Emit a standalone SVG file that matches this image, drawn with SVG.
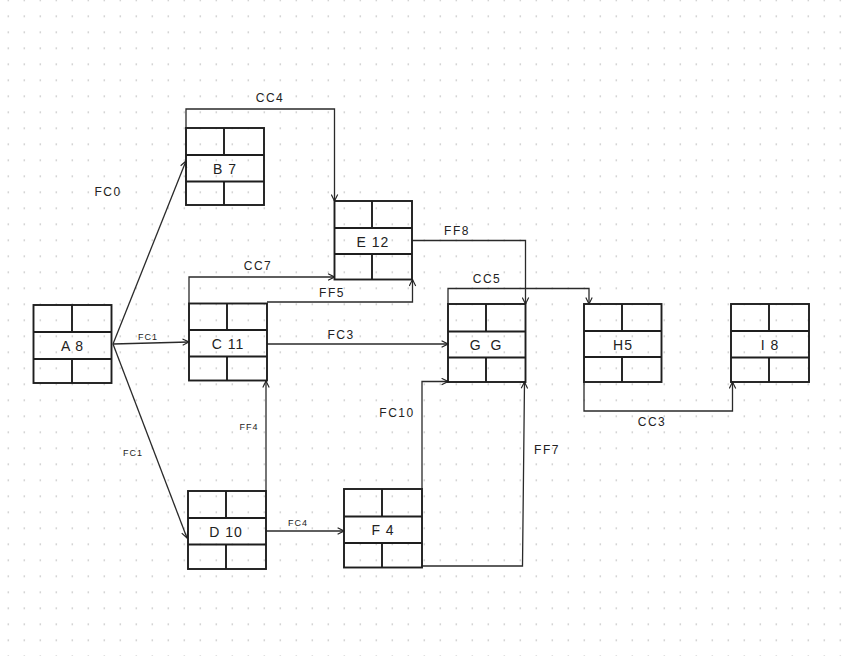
<svg xmlns="http://www.w3.org/2000/svg" width="848" height="656" viewBox="0 0 848 656">
<defs>
<pattern id="dots" x="0" y="-7.7" width="16" height="16" patternUnits="userSpaceOnUse">
<circle cx="8.3" cy="8" r="0.9" fill="#cfcfcf"/>
</pattern>
<marker id="arr" viewBox="0 0 10 10" refX="9" refY="5" markerWidth="8" markerHeight="8" markerUnits="userSpaceOnUse" orient="auto">
<path d="M1,1 L9,5 L1,9" fill="none" stroke="#222" stroke-width="1.4"/>
</marker>
<style>
.box{fill:none;stroke:#1e1e1e;stroke-width:1.9}
.conn path{fill:none;stroke:#2a2a2a;stroke-width:1.3;marker-end:url(#arr)}
.nl{font-family:"Liberation Sans",Arial,sans-serif;font-size:14px;fill:#222;text-anchor:middle;dominant-baseline:central;letter-spacing:1px}
.el{font-family:"Liberation Sans",Arial,sans-serif;font-size:12px;fill:#222;text-anchor:middle;dominant-baseline:central;letter-spacing:1.5px}
.es{font-family:"Liberation Sans",Arial,sans-serif;font-size:9px;fill:#222;text-anchor:middle;dominant-baseline:central;letter-spacing:1px}
</style>
</defs>
<rect width="848" height="656" fill="#ffffff"/>
<rect width="848" height="656" fill="url(#dots)"/>

<g id="connectors" class="conn">
<path d="M113,344 L186,161"/>
<path d="M113,344 L189,342"/>
<path d="M113,344 L187,538"/>
<path d="M186,128 V109 H334.5 V201"/>
<path d="M189,303.5 V277 H334.5"/>
<path d="M267,302 H412.5 V279.5"/>
<path d="M412,240.5 H525.5 V304"/>
<path d="M267,344 H448"/>
<path d="M448,304 V288.5 H589 V304"/>
<path d="M266,491 V381"/>
<path d="M266,531 H344"/>
<path d="M422,489 V381.5 H448"/>
<path d="M422,566 H522.5 L524.5,382"/>
<path d="M584,382 V411 H732.5 V382"/>
</g>

<g id="edge-labels">
<text class="el" x="270" y="98">CC4</text>
<text class="el" x="108" y="192">FC0</text>
<text class="el" x="258" y="266">CC7</text>
<text class="el" x="332" y="293">FF5</text>
<text class="el" x="457" y="231">FF8</text>
<text class="el" x="487" y="279">CC5</text>
<text class="es" x="148" y="337">FC1</text>
<text class="el" x="341" y="335">FC3</text>
<text class="es" x="249" y="427">FF4</text>
<text class="es" x="133" y="453">FC1</text>
<text class="el" x="397" y="413">FC10</text>
<text class="el" x="547" y="450">FF7</text>
<text class="es" x="298" y="523">FC4</text>
<text class="el" x="652" y="422">CC3</text>
</g>

<g id="node-A">
<rect class="box" x="33.5" y="305" width="78" height="78"/>
<path class="box" d="M33.5,332 H111.5 M33.5,359 H111.5 M72,305 V332 M72,359 V383"/>
<text class="nl" x="72.5" y="345.5">A 8</text>
</g>
<g id="node-B">
<rect class="box" x="186" y="128" width="78" height="77"/>
<path class="box" d="M186,155 H264 M186,181.5 H264 M224,128 V155 M224,181.5 V205"/>
<text class="nl" x="225" y="168.5">B 7</text>
</g>
<g id="node-C">
<rect class="box" x="189" y="303.5" width="78" height="77"/>
<path class="box" d="M189,330 H267 M189,356.5 H267 M227,303.5 V330 M227,356.5 V380.5"/>
<text class="nl" x="228" y="343.5">C 11</text>
</g>
<g id="node-D">
<rect class="box" x="188" y="491" width="78" height="78"/>
<path class="box" d="M188,518 H266 M188,544.5 H266 M226,491 V518 M226,544.5 V569"/>
<text class="nl" x="226" y="531.5">D 10</text>
</g>
<g id="node-E">
<rect class="box" x="334.5" y="201" width="77.5" height="78.5"/>
<path class="box" d="M334.5,228 H412 M334.5,254 H412 M372,201 V228 M372,254 V279.5"/>
<text class="nl" x="373" y="241.5">E 12</text>
</g>
<g id="node-F">
<rect class="box" x="344" y="489" width="78" height="78.5"/>
<path class="box" d="M344,516.5 H422 M344,543 H422 M382,489 V516.5 M382,543 V567.5"/>
<text class="nl" x="383" y="530">F 4</text>
</g>
<g id="node-G">
<rect class="box" x="448" y="304" width="77.5" height="78"/>
<path class="box" d="M448,331.5 H525.5 M448,357.5 H525.5 M486,304 V331.5 M486,357.5 V382"/>
<text class="nl" x="487" y="345" style="letter-spacing:3px">G G</text>
</g>
<g id="node-H">
<rect class="box" x="584" y="304" width="77.5" height="78"/>
<path class="box" d="M584,331 H661.5 M584,357 H661.5 M622,304 V331 M622,357 V382"/>
<text class="nl" x="623" y="344.5">H5</text>
</g>
<g id="node-I">
<rect class="box" x="731" y="304" width="78" height="78"/>
<path class="box" d="M731,331 H809 M731,357.5 H809 M769,304 V331 M769,357.5 V382"/>
<text class="nl" x="770" y="344.5">I 8</text>
</g>
</svg>
